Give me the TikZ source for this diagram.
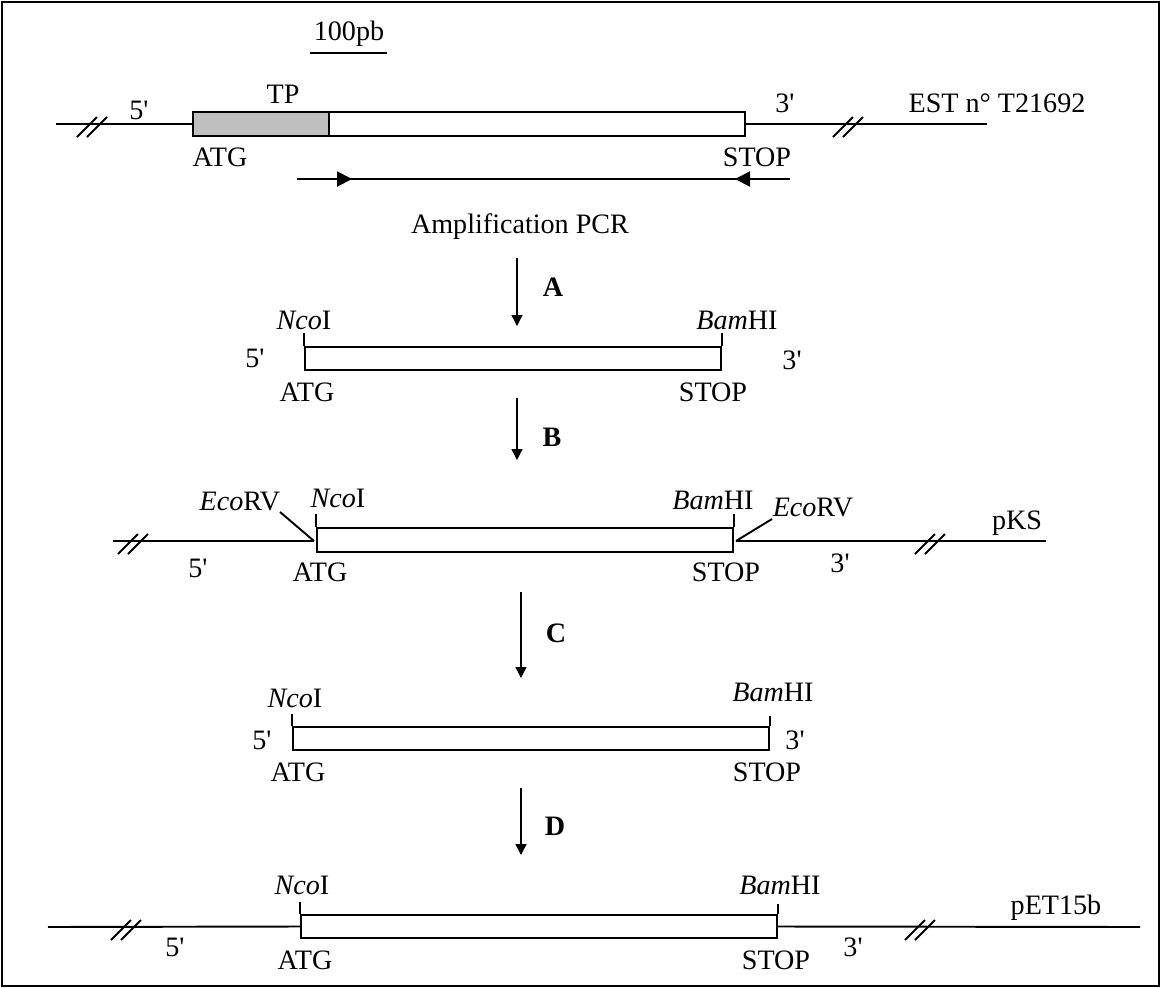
\documentclass[tikz,border=0pt]{standalone}
\usepackage{fontspec}
\setmainfont{Liberation Serif}[Ligatures=TeXOff]
\usepackage{tikz}
\usetikzlibrary{arrows.meta, fit}
\tikzset{
  strand/.style={line width=1.1pt},
  orfbox/.style={draw, line width=1.1pt, inner sep=0pt, fill=white},
  cutsite/.style={line width=1.1pt},
  stepwire/.style={-{Triangle[length=0.22cm, width=0.22cm]}, line width=0.8pt},
  primer/.style={-{Triangle[length=0.3cm, width=0.3cm]}, line width=1.1pt},
  lab/.style={inner sep=0pt, font=\fontsize{16}{19}\selectfont},
  steplab/.style={lab, font=\fontsize{16}{19}\selectfont\bfseries},
  brk/.pic={\draw[line width=1.1pt] (-15,13) -- (5,-7) (-5,13) -- (15,-7);}
}
\newcommand{\nco}{\textit{Nco}I}
\newcommand{\bam}{\textit{Bam}HI}
\newcommand{\eco}{\textit{Eco}RV}

\begin{document}
\begin{tikzpicture}[x=0.02cm, y=-0.02cm]
        \useasboundingbox (0,0) rectangle (1161,988);
        \draw[line width=0.6pt] (2,2) rectangle (1159,986);
        % scale bar
        \node[lab] (scale) at (349,34) {100pb};
        \coordinate (barL) at (310,53);
        \coordinate (barR) at (387,53);
        \draw[strand] (barL) -- (barR);
        % EST clone
        \coordinate (est5) at (56,124);
        \coordinate (est3) at (987,124);
        \node[orfbox, fill=black!25, fit={(193,112) (329,136)}] (tp) {};
        \node[orfbox, fit={(329,112) (745,136)}] (orf) {};
        \draw[strand] (est5) -- (tp.west);
        \draw[strand] (orf.east) -- (est3);
        \pic at (92,124) {brk};
        \pic at (848,124) {brk};
        \node[lab] (tpname) at (283,94) {TP};
        \node[lab] (est5p) at (139,110) {5'};
        \node[lab] (est3p) at (785,103) {3'};
        \node[lab] (estatg) at (220,157) {ATG};
        \node[lab] (eststop) at (757,157) {STOP};
        \node[lab] (estname) at (997,103) {EST n° T21692};
        \coordinate (fwd) at (297,179);
        \coordinate (fwdtip) at (352,179);
        \coordinate (rev) at (790,179);
        \coordinate (revtip) at (735,179);
        \draw[strand] (fwd) -- (rev);
        \draw[primer] (fwd) -- (fwdtip);
        \draw[primer] (rev) -- (revtip);
        \node[lab] (amp) at (520,227) {Amplification PCR};
        % A
        \coordinate (stepAtop) at (517,258);
        \coordinate (stepAbot) at (517,326);
        \draw[stepwire] (stepAtop) -- (stepAbot);
        \node[steplab] (stepA) at (553,287) {A};
        \node[orfbox, fit={(305,347) (721,370)}] (pcr) {};
        \draw[cutsite] (pcr.north west) -- ++(0,-13);
        \draw[cutsite] (pcr.north east) -- ++(0,-13);
        \node[lab] (pcrnco) at (304,320) {\nco};
        \node[lab] (pcrbam) at (737,320) {\bam};
        \node[lab] (pcr5p) at (255,358) {5'};
        \node[lab] (pcr3p) at (792,360) {3'};
        \node[lab] (pcratg) at (307,392) {ATG};
        \node[lab] (pcrstop) at (713,392) {STOP};
        % B
        \coordinate (stepBtop) at (517,398);
        \coordinate (stepBbot) at (517,460);
        \draw[stepwire] (stepBtop) -- (stepBbot);
        \node[steplab] (stepB) at (552,437) {B};
        \coordinate (ks5) at (113,541);
        \coordinate (ks3) at (1046,541);
        \coordinate (cutL) at (314,541);
        \coordinate (cutR) at (736,541);
        \coordinate (ecoL) at (280,512);
        \coordinate (ecoR) at (772,519);
        \node[orfbox, fit={(317,528) (733,552)}] (ks) {};
        \draw[strand] (ks5) -- (cutL);
        \draw[strand] (cutR) -- (ks3);
        \draw[cutsite] (cutL) -- (ecoL);
        \draw[cutsite] (cutR) -- (ecoR);
        \draw[cutsite] (ks.north west) -- ++(0,-13);
        \draw[cutsite] (ks.north east) -- ++(0,-13);
        \pic at (133,541) {brk};
        \pic at (930,541) {brk};
        \node[lab] (kseco5) at (240,502) {\eco};
        \node[lab] (ksnco) at (338,498) {\nco};
        \node[lab] (ksbam) at (713,500) {\bam};
        \node[lab] (kseco3) at (813,508) {\eco};
        \node[lab] (ksname) at (1017,523) {pKS};
        \node[lab] (ks5p) at (198,568) {5'};
        \node[lab] (ks3p) at (840,563) {3'};
        \node[lab] (ksatg) at (320,572) {ATG};
        \node[lab] (ksstop) at (726,572) {STOP};
        % C
        \coordinate (stepCtop) at (521,592);
        \coordinate (stepCbot) at (521,678);
        \draw[stepwire] (stepCtop) -- (stepCbot);
        \node[steplab] (stepC) at (556,633) {C};
        \node[orfbox, fit={(293,727) (769,750)}] (frag) {};
        \draw[cutsite] (frag.north west) -- ++(0,-12);
        \draw[cutsite] (frag.north east) -- ++(0,-10);
        \node[lab] (fragnco) at (295,698) {\nco};
        \node[lab] (fragbam) at (773,692) {\bam};
        \node[lab] (frag5p) at (262,740) {5'};
        \node[lab] (frag3p) at (795,740) {3'};
        \node[lab] (fragatg) at (298,772) {ATG};
        \node[lab] (fragstop) at (767,772) {STOP};
        % D
        \coordinate (stepDtop) at (521,788);
        \coordinate (stepDbot) at (521,855);
        \draw[stepwire] (stepDtop) -- (stepDbot);
        \node[steplab] (stepD) at (555,826) {D};
        \coordinate (pet5) at (48,927);
        \coordinate (pet3) at (1140,927);
        \node[orfbox, fit={(301,915) (777,938)}] (pet) {};
        \draw[strand] (pet5) -- (pet.west);
        \draw[strand] (pet.east) -- (pet3);
        \draw[cutsite] (pet.north west) -- ++(0,-12);
        \draw[cutsite] (pet.north east) -- ++(0,-10);
        \pic at (126,927) {brk};
        \pic at (920,927) {brk};
        \node[lab] (petnco) at (302,885) {\nco};
        \node[lab] (petbam) at (780,885) {\bam};
        \node[lab] (petname) at (1056,908) {pET15b};
        \node[lab] (pet5p) at (175,947) {5'};
        \node[lab] (pet3p) at (853,947) {3'};
        \node[lab] (petatg) at (305,960) {ATG};
        \node[lab] (petstop) at (776,960) {STOP};
      \end{tikzpicture}
\end{document}
